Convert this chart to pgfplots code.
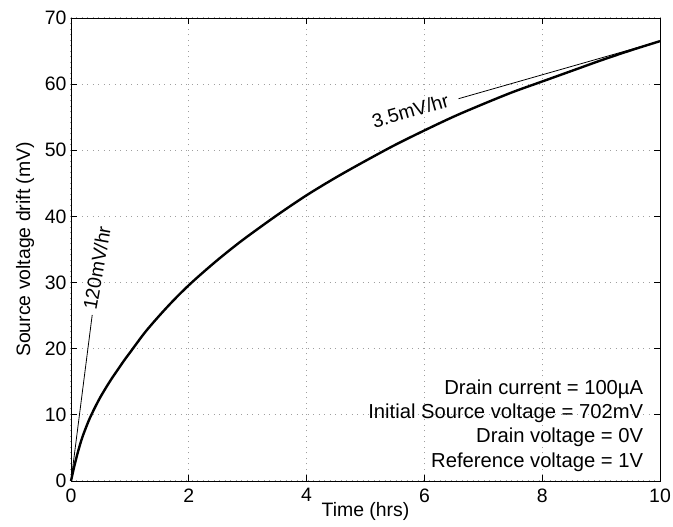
\documentclass[border=0pt]{standalone}
\usepackage{fontspec}
\setmainfont{Liberation Sans}
\usepackage{pgfplots}
\pgfplotsset{compat=1.18}

\newcommand{\lblfont}{\fontsize{19.5}{23}\selectfont}
\newcommand{\notefont}{\fontsize{20.3}{24}\selectfont}

% drift curve
\begin{document}
\begin{tikzpicture}
\begin{axis}[
    scale only axis,
    width=589bp, height=463bp,
    xmin=0, xmax=10, ymin=0, ymax=70,
    xtick={0,2,...,10}, ytick={0,10,...,70},
    tick align=inside, tick pos=both,
    major tick length=6bp,
    grid=major,
    grid style={dash pattern=on 1bp off 4.5bp, gray!75, line width=1bp},
    axis line style={line width=0.9bp, black},
    every tick/.style={black, line width=0.8bp},
    /pgf/number format/assume math mode=true,
    tick label style={font=\lblfont},
    xticklabel style={yshift=-4bp},
    yticklabel style={xshift=-1bp},
    label style={font=\lblfont},
    xlabel={Time (hrs)},
    ylabel={Source voltage drift (mV)},
    xlabel style={at={(axis description cs:0.5,-0.0771)}, anchor=base},
    ylabel style={at={(axis description cs:-0.0781,0.5)}, anchor=center},
    clip=false,
]
\addplot[black, line width=2.4bp, smooth] coordinates {
    (0,0) (0.05,2.0) (0.1,3.8) (0.15,5.4) (0.2,6.8) (0.3,9.1)
    (0.4,11.0) (0.5,12.7) (0.6,14.2) (0.7,15.6) (0.8,16.9)
    (0.9,18.2) (1.0,19.4) (1.25,22.4) (1.5,25.0) (1.75,27.4)
    (2.0,29.6) (2.25,31.6) (2.5,33.5) (2.75,35.3) (3.0,37.0)
    (3.5,40.2) (4.0,43.2) (4.5,45.9) (5.0,48.4) (5.5,50.8)
    (6.0,53.0) (6.5,55.1) (7.0,57.0) (7.5,58.8) (8.0,60.4)
    (8.5,62.0) (9.0,63.6) (9.5,65.1) (10,66.5)
};
\addplot[black, line width=0.8bp] coordinates {(0,0) (0.36,25.1)};
\addplot[black, line width=0.8bp] coordinates {(6.58,57.8) (10,66.5)};

\node[rotate=80, font=\lblfont] at (axis cs:0.44,32.2) {120mV/hr};
\node[rotate=16, font=\lblfont] at (axis cs:5.76,56.0) {3.5mV/hr};

\node[anchor=base east, font=\notefont] at (axis cs:9.774,13.15) {Drain current = 100µA};
\node[anchor=base east, font=\notefont] at (axis cs:9.774,9.45) {Initial Source voltage = 702mV};
\node[anchor=base east, font=\notefont] at (axis cs:9.774,5.75) {Drain voltage = 0V};
\node[anchor=base east, font=\notefont] at (axis cs:9.774,2.05) {Reference voltage = 1V};
\end{axis}
\pgfresetboundingbox
\path[use as bounding box] ([shift={(-71bp,-46bp)}]current axis.south west)
    rectangle ([shift={(13bp,18bp)}]current axis.north east);
\end{tikzpicture}
\end{document}
